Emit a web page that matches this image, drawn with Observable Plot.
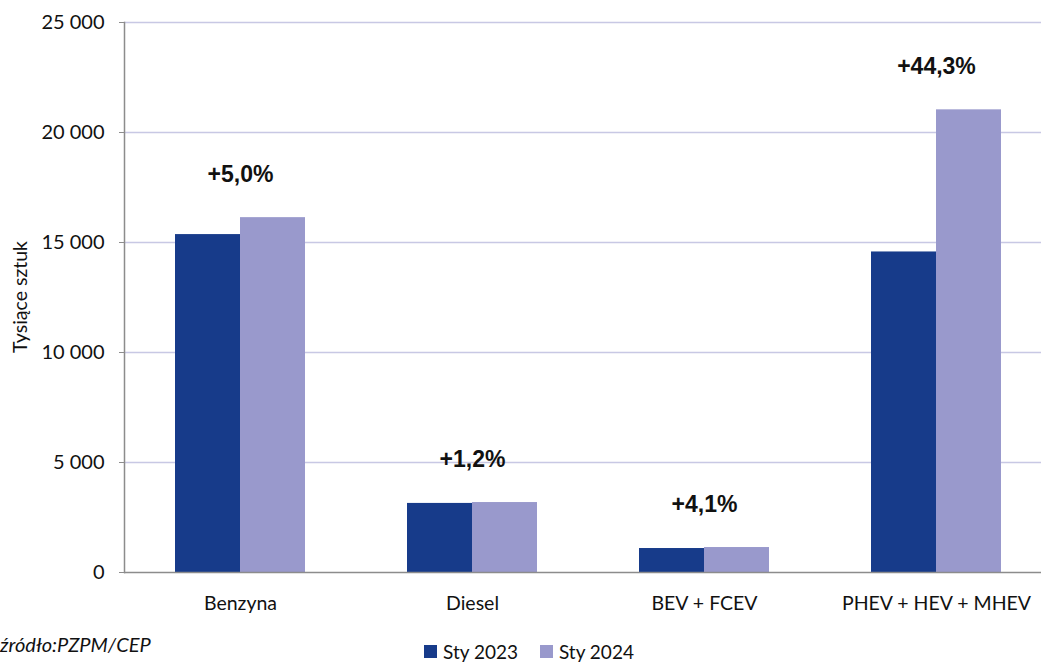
<!DOCTYPE html>
<html>
<head>
<meta charset="utf-8">
<script src="https://cdn.jsdelivr.net/npm/d3@7"></script>
<script src="https://cdn.jsdelivr.net/npm/@observablehq/plot@0.6"></script>
<style>
  html, body { margin: 0; padding: 0; background: #fff; overflow: hidden; }
  #wrap { position: relative; width: 1041px; height: 662px; font-family: Lato, "Open Sans", sans-serif; }
  #legend { position: absolute; left: 424px; top: 640px; display: flex; align-items: center; font-size: 19px; color: #111; }
  #legend .sw { width: 13px; height: 13px; display: inline-block; margin-right: 6px; }
  #legend .item { display: flex; align-items: center; margin-right: 22px; }
  #source { position: absolute; left: 0px; top: 632px; font-size: 20px; font-style: italic; color: #111; }
  #ytitle { position: absolute; left: 19px; top: 297px; transform: translate(-50%, -50%) rotate(-90deg); font-size: 19.5px; color: #111; white-space: nowrap; }
</style>
</head>
<body>
<div id="wrap">
  <div id="chart"></div>
  <div id="ytitle">Tysiące sztuk</div>
  <div id="source">źródło:PZPM/CEP</div>
  <div id="legend"></div>
</div>
<script>
const categories = ["Benzyna", "Diesel", "BEV + FCEV", "PHEV + HEV + MHEV"];
const years = ["Sty 2023", "Sty 2024"];
const values2023 = [15360, 3140, 1090, 14570];
const values2024 = [16130, 3180, 1135, 21030];
const changeLabels = ["+5,0%", "+1,2%", "+4,1%", "+44,3%"];
const yTicks = [0, 5000, 10000, 15000, 20000, 25000];
const colors = ["#173b8a", "#9999cc"];

const bars = categories.flatMap((c, i) => [
  {category: c, year: years[0], value: values2023[i]},
  {category: c, year: years[1], value: values2024[i]}
]);
const labels = categories.map((c, i) => ({
  category: c,
  top: Math.max(values2023[i], values2024[i]),
  text: changeLabels[i]
}));

const fmt = d => d3.format(",")(d).replace(/,/g, "\u00a0");

const chart = Plot.plot({
  width: 1041,
  height: 622,
  marginLeft: 123,
  marginRight: -12,
  marginTop: 22,
  marginBottom: 50,
  style: {fontFamily: "Lato, 'Open Sans', sans-serif", fontSize: "19px", color: "#111", background: "#fff", overflow: "visible"},
  fx: {domain: categories, padding: 0, label: null},
  x: {domain: years, paddingInner: 0, paddingOuter: 0.76, axis: null},
  y: {domain: [0, 25000], label: null},
  color: {domain: years, range: colors},
  marks: [
    Plot.ruleY(yTicks.filter(d => d > 0), {stroke: "#c8c8e4", strokeWidth: 1.5}),
    Plot.barY(bars, {fx: "category", x: "year", y: "value", fill: "year", inset: 0}),
    Plot.ruleY([0], {stroke: "#8c8c8c", strokeWidth: 1.5}),
    Plot.frame({anchor: "left", stroke: "#8c8c8c", strokeWidth: 1.5, facet: "super"}),
    Plot.axisY({ticks: yTicks, tickFormat: fmt, tickSize: 5, tickPadding: 15, stroke: "#8c8c8c", fontSize: 20, label: null}),
    Plot.axisFx({anchor: "bottom", tickSize: 0, tickPadding: 24, fontSize: 19.5, label: null}),
    Plot.text(labels, {fx: "category", y: "top", text: "text", dy: -43, fontWeight: "bold", fontSize: 23, fontFamily: "'Liberation Sans', Arial, sans-serif", fill: "#111"})
  ]
});
document.getElementById("chart").appendChild(chart);

const legend = document.getElementById("legend");
years.forEach((y, i) => {
  const item = document.createElement("div");
  item.className = "item";
  item.innerHTML = `<span class="sw" style="background:${colors[i]}"></span><span>${y}</span>`;
  legend.appendChild(item);
});
</script>
</body>
</html>
